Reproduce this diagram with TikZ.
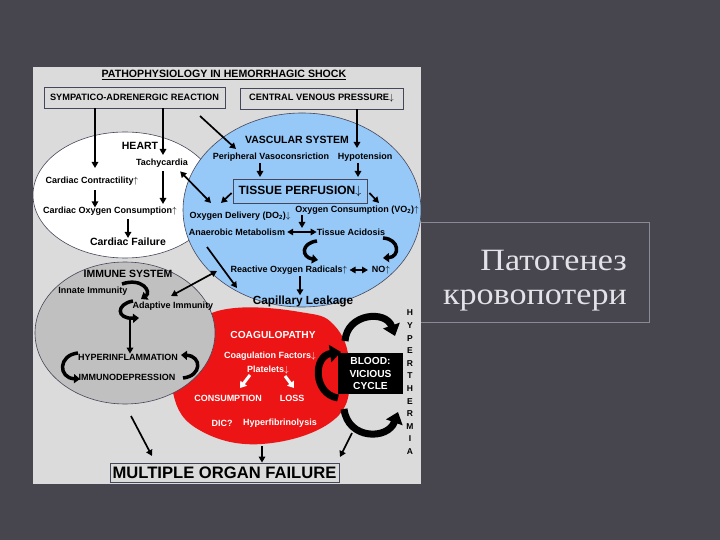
\documentclass[tikz,border=0pt]{standalone}
\usepackage{fontspec}
\setmainfont{Liberation Sans}
\newfontfamily\ruserif[FakeStretch=1.1]{Liberation Serif}
\usetikzlibrary{arrows.meta,shapes.geometric}
\definecolor{slidebg}{RGB}{71,70,79}
\definecolor{panelgray}{RGB}{219,219,219}
\definecolor{vascblue}{RGB}{150,200,248}
\definecolor{immgray}{RGB}{192,192,192}
\definecolor{coagred}{RGB}{236,20,20}
\definecolor{rustext}{RGB}{226,226,232}
\definecolor{boxline}{RGB}{138,138,150}
\definecolor{edgecol}{RGB}{70,70,90}
\begin{document}
\begin{tikzpicture}[x=1pt,y=-1pt,
  lbl/.style={font=\bfseries\fontsize{9}{10}\selectfont, inner sep=0pt},
  hd/.style={font=\bfseries\fontsize{10.5}{12}\selectfont, inner sep=0pt},
  wl/.style={lbl, text=white},
  arr/.style={-{Triangle[length=6pt,width=6.5pt]}, line width=1.7pt},
  darr/.style={{Triangle[length=6pt,width=6.5pt]}-{Triangle[length=6pt,width=6.5pt]}, line width=1.7pt},
  cyc/.style={-{Triangle[length=6pt,width=9pt]}, line width=3.5pt},
  bigcyc/.style={-{Triangle[length=11pt,width=17pt]}, line width=7pt},
  warr/.style={-{Triangle[length=6pt,width=8pt]}, line width=3pt, white},
  tbox/.style={draw=edgecol, line width=0.8pt, inner sep=0pt},
  region/.style={ellipse, draw=edgecol, line width=0.6pt, inner sep=0pt}
]
\useasboundingbox (0,0) rectangle (720,540);
\fill[slidebg] (0,0) rectangle (720,540);
% right title box
\draw[boxline, line width=0.8pt] (415,222) rectangle (649,322);
\node[anchor=base east, font=\ruserif\fontsize{31}{36}\selectfont, text=rustext, inner sep=0pt] (rt1) at (627,270) {Патогенез};
\node[anchor=base east, font=\ruserif\fontsize{31}{36}\selectfont, text=rustext, inner sep=0pt] (rt2) at (627,304) {кровопотери};
% panel
\fill[panelgray] (33,67) rectangle (421,484);
\begin{scope}
\clip (33,67) rectangle (421,484);
\node[region, fill=white, minimum width=184pt, minimum height=126pt] (heart) at (125,195) {};
\node[region, fill=vascblue, minimum width=238pt, minimum height=194pt] (vasc) at (302,210) {};
\fill[coagred] plot[smooth cycle, tension=0.7] coordinates {(195,322) (235,308) (300,312) (334,325) (349,365) (336,418) (262,444) (196,428) (172,388) (178,345)};
\node[region, fill=immgray, minimum width=180pt, minimum height=142pt] (imm) at (125,333) {};
\end{scope}
% title and top boxes
\node[font=\bfseries\fontsize{10.6}{12}\selectfont, inner sep=0pt] (title) at (224,75) {\underline{PATHOPHYSIOLOGY IN HEMORRHAGIC SHOCK}};
\node[tbox, minimum width=181pt, minimum height=21pt, font=\bfseries\fontsize{9.2}{10}\selectfont] (sym) at (134.5,97.5) {SYMPATICO-ADRENERGIC REACTION};
\node[tbox, minimum width=163pt, minimum height=21pt, font=\bfseries\fontsize{9.3}{10}\selectfont] (cvp) at (321.5,98.5) {CENTRAL VENOUS PRESSURE$\downarrow$};
% heart
\node[hd] (hearttitle) at (140,146) {HEART};
\node[lbl] (tachy) at (162,163) {Tachycardia};
\node[lbl] (contr) at (92,181) {Cardiac Contractility$\uparrow$};
\node[lbl] (cardox) at (110,211) {Cardiac Oxygen Consumption$\uparrow$};
\node[hd] (cfail) at (128,242) {Cardiac Failure};
\coordinate (h1) at (95,168);
\coordinate (h2) at (163,155);
\draw[arr] (sym.south -| h1) -- (h1);
\draw[arr] (sym.south -| h2) -- (h2);
\draw[arr] (contr.south -| h1) ++(0,5) -- ++(0,17);
\draw[arr] (tachy.south -| h2) ++(0,4) -- (163,204);
\draw[arr] (cardox.south -| cfail) ++(0,4) -- (cfail.north);
% vascular
\node[hd] (vtitle) at (297,140) {VASCULAR SYSTEM};
\node[lbl] (periph) at (271,157) {Peripheral Vasoconsriction};
\node[lbl] (hypot) at (365,157) {Hypotension};
\node[tbox, minimum width=134pt, minimum height=24pt, font=\bfseries\fontsize{12}{14}\selectfont] (tperf) at (300,191) {TISSUE PERFUSION$\downarrow$};
\node[lbl] (odel) at (240,216) {Oxygen Delivery (DO\textsubscript{2})$\downarrow$};
\node[lbl] (ocons) at (357,210) {Oxygen Consumption (VO\textsubscript{2})$\uparrow$};
\node[lbl] (anaer) at (237,232) {Anaerobic Metabolism};
\node[lbl] (acid) at (351,232) {Tissue Acidosis};
\node[lbl] (ros) at (289,270) {Reactive Oxygen Radicals$\uparrow$};
\node[lbl] (no) at (381,270) {NO$\uparrow$};
\node[font=\bfseries\fontsize{11.8}{13}\selectfont, inner sep=0pt] (capl) at (303,301) {Capillary Leakage};
\coordinate (v1) at (236,149);
\draw[arr] (200,116) -- (v1);
\draw[arr] (cvp.south -| 357,0) -- (357,148);
\draw[arr] (260,163) -- (260,177);
\draw[arr] (358,163) -- (358,177);
\draw[arr] (tperf.west) ++(-1,2) -- (221,203);
\draw[arr] (tperf.east) ++(2,2) -- (379,203);
\draw[arr] (302,215) -- (302,228);
\draw[darr] (anaer.east) ++(2,0) -- (acid.west);
\draw[cyc] (317,241) .. controls (301,243) and (301,257) .. (318,260);
\draw[cyc] (383,238) .. controls (400,239) and (400,257) .. (383,258);
\draw[darr] (ros.east) ++(2,0) -- (368,270);
\draw[arr] (300,276) -- (capl.north -| 300,0);
\draw[arr] (207,247) -- (237,288);
\draw[darr] (tachy.south east) ++(-8,4) -- (211,203);
% immune
\node[hd] (ititle) at (128,274) {IMMUNE SYSTEM};
\node[lbl] (innate) at (93,291) {Innate Immunity};
\node[lbl] (adapt) at (173,306) {Adaptive Immunity};
\node[lbl] (hyper) at (128,357) {HYPERINFLAMMATION};
\node[lbl] (depr) at (127,377) {IMMUNODEPRESSION};
\draw[cyc] (122,284) .. controls (142,277) and (152,292) .. (141,299);
\draw[cyc] (133,301) .. controls (116,304) and (116,319) .. (139,318);
\draw[darr] (171,296) -- (217,271);
\draw[arr] (130,320) -- (hyper.north -| 130,0);
\draw[cyc] (78,353) .. controls (58,355) and (58,378) .. (80,379);
\draw[cyc] (183,378) .. controls (202,376) and (202,356) .. (181,355);
% coagulopathy
\node[font=\bfseries\fontsize{10.2}{12}\selectfont, text=white, inner sep=0pt] (ctitle) at (273,335) {COAGULOPATHY};
\node[wl] (cfact) at (270,356) {Coagulation Factors$\downarrow$};
\node[wl] (plat) at (268,370) {Platelets$\downarrow$};
\node[wl] (consum) at (228,398) {CONSUMPTION};
\node[wl] (loss) at (292,398) {LOSS};
\node[wl] (dic) at (222,423) {DIC?};
\node[wl] (hfib) at (280,423) {Hyperfibrinolysis};
\draw[warr] (250,375) -- (240,388);
\draw[warr] (285,376) -- (294,388);
% vicious cycle
\node[fill=black, text=white, minimum width=65pt, minimum height=41pt, inner sep=0pt, align=center, font=\bfseries\fontsize{10.2}{12.5}\selectfont] (vic) at (370.5,373.5) {BLOOD:\\VICIOUS\\CYCLE};
\draw[bigcyc] (345,341) .. controls (347,313) and (386,310) .. (395,336);
\draw[bigcyc] (338,398) .. controls (313,394) and (313,356) .. (341,352);
\draw[bigcyc] (344,409) .. controls (348,440) and (388,440) .. (398,412);
\foreach \l [count=\i from 0] in {H,Y,P,E,R,T,H,E,R,M,I,A}
  \node[font=\bfseries\fontsize{8.5}{10}\selectfont, inner sep=0pt] (hy\i) at (410,{313+12.6*\i}) {\l};
% multiple organ failure
\node[tbox, minimum width=229pt, minimum height=19pt, font=\bfseries\fontsize{16.6}{18}\selectfont] (mof) at (224.5,472.5) {MULTIPLE ORGAN FAILURE};
\draw[arr] (131,416) -- (152,456);
\draw[arr] (262,446) -- (mof.north -| 262,0);
\draw[arr] (352,433) -- (340,457);
\end{tikzpicture}
\end{document}
